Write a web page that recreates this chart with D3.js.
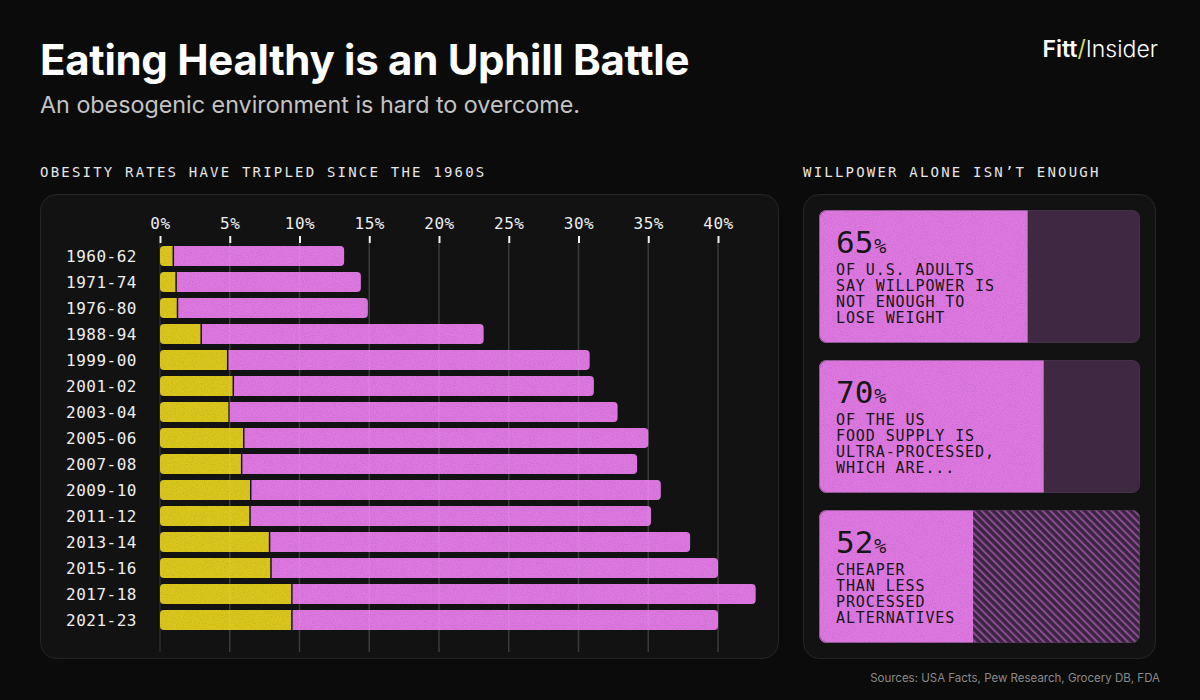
<!DOCTYPE html>
<html>
<head>
<meta charset="utf-8">
<script src="https://cdn.jsdelivr.net/npm/d3@7"></script>
<style>
  html, body { margin: 0; padding: 0; background: #0b0b0b; }
  svg { display: block; }
</style>
</head>
<body>
<svg id="chart"></svg>
<script>
// obesity rates (% of US adults)
const periods = ["1960-62", "1971-74", "1976-80", "1988-94", "1999-00", "2001-02", "2003-04",
  "2005-06", "2007-08", "2009-10", "2011-12", "2013-14", "2015-16", "2017-18", "2021-23"];
const severeObesity = [0.9, 1.1, 1.2, 2.9, 4.8, 5.2, 4.9, 5.95, 5.8, 6.45, 6.4, 7.8, 7.9, 9.4, 9.4];
const totalObesity = [13.2, 14.4, 14.9, 23.2, 30.8, 31.1, 32.8, 35.0, 34.2, 35.9, 35.2, 38.0, 40.0, 42.7, 40.0];
const xTicks = [0, 5, 10, 15, 20, 25, 30, 35, 40];

// right hand stat cards
const statValues = [65, 70, 52];
const statFill = [65, 70, 48]; // pink share of each card (last card hatches the 52%)
const statHatched = [false, false, true];
const statLines = [
  ["OF U.S. ADULTS", "SAY WILLPOWER IS", "NOT ENOUGH TO", "LOSE WEIGHT"],
  ["OF THE US", "FOOD SUPPLY IS", "ULTRA-PROCESSED,", "WHICH ARE..."],
  ["CHEAPER", "THAN LESS", "PROCESSED", "ALTERNATIVES"]
];

const width = 1200, height = 700;
const mono = "'DejaVu Sans Mono', monospace";
const sans = "Inter, 'Noto Sans', sans-serif";
const pink = "#df78e2", yellow = "#dcc81c";

const svg = d3.select("#chart")
  .attr("width", width)
  .attr("height", height)
  .attr("viewBox", [0, 0, width, height]);

svg.append("rect").attr("width", width).attr("height", height).attr("fill", "#0b0b0b");

const defs = svg.append("defs");
// grain for the bars
const grain = defs.append("filter").attr("id", "grain").attr("x", 0).attr("y", 0).attr("width", 1).attr("height", 1);
grain.append("feTurbulence").attr("type", "fractalNoise").attr("baseFrequency", 0.9).attr("numOctaves", 2).attr("seed", 3).attr("result", "noise");
grain.append("feColorMatrix").attr("in", "noise").attr("type", "matrix")
  .attr("values", "0 0 0 0 0  0 0 0 0 0  0 0 0 0 0  0 0 0 -1.2 0.75").attr("result", "dark");
grain.append("feComposite").attr("in", "dark").attr("in2", "SourceAlpha").attr("operator", "in").attr("result", "dk");
grain.append("feComponentTransfer").attr("in", "dk").attr("result", "dk2")
  .append("feFuncA").attr("type", "linear").attr("slope", 0.35);
const gm = grain.append("feMerge");
gm.append("feMergeNode").attr("in", "SourceGraphic");
gm.append("feMergeNode").attr("in", "dk2");

const hatch = defs.append("pattern").attr("id", "hatch")
  .attr("patternUnits", "userSpaceOnUse").attr("width", 5.4).attr("height", 5.4)
  .attr("patternTransform", "rotate(-45)");
hatch.append("rect").attr("width", 5.4).attr("height", 5.4).attr("fill", "#3a2440");
hatch.append("rect").attr("x", 0).attr("width", 2).attr("height", 5.4).attr("fill", "#8c4c94");

// rect with separate left / right corner radius
function barPath(x0, y0, w, h, rl, rr) {
  const p = d3.path();
  p.moveTo(x0 + rl, y0);
  p.lineTo(x0 + w - rr, y0);
  p.arcTo(x0 + w, y0, x0 + w, y0 + rr, rr);
  p.lineTo(x0 + w, y0 + h - rr);
  p.arcTo(x0 + w, y0 + h, x0 + w - rr, y0 + h, rr);
  p.lineTo(x0 + rl, y0 + h);
  p.arcTo(x0, y0 + h, x0, y0 + h - rl, rl);
  p.lineTo(x0, y0 + rl);
  p.arcTo(x0, y0, x0 + rl, y0, rl);
  p.closePath();
  return p.toString();
}

// header
svg.append("text").attr("x", 40).attr("y", 75)
  .attr("font-family", sans).attr("font-weight", 700).attr("font-size", 42).attr("letter-spacing", -0.3)
  .attr("fill", "#ffffff").text("Eating Healthy is an Uphill Battle");
svg.append("text").attr("x", 40).attr("y", 113)
  .attr("font-family", sans).attr("font-size", 23.3).attr("fill", "#c4c4c4")
  .text("An obesogenic environment is hard to overcome.");

const logo = svg.append("text").attr("x", 1158).attr("y", 57).attr("text-anchor", "end")
  .attr("font-family", sans).attr("font-size", 23).attr("fill", "#ffffff");
logo.append("tspan").attr("font-weight", 600).text("Fitt");
logo.append("tspan").attr("fill", "#d4e05a").attr("font-weight", 400).text("/");
logo.append("tspan").attr("font-weight", 300).text("Insider");

// section labels
svg.append("text").attr("x", 40).attr("y", 177)
  .attr("font-family", mono).attr("font-size", 14).attr("letter-spacing", 2.2).attr("fill", "#e6e6e6")
  .text("OBESITY RATES HAVE TRIPLED SINCE THE 1960S");
svg.append("text").attr("x", 803).attr("y", 177)
  .attr("font-family", mono).attr("font-size", 14).attr("letter-spacing", 2.2).attr("fill", "#e6e6e6")
  .text("WILLPOWER ALONE ISN\u2019T ENOUGH");

// panels
svg.append("rect").attr("x", 40.5).attr("y", 194.5).attr("width", 738).attr("height", 464).attr("rx", 16)
  .attr("fill", "#121212").attr("stroke", "#262626");
svg.append("rect").attr("x", 803.5).attr("y", 194.5).attr("width", 352).attr("height", 464).attr("rx", 16)
  .attr("fill", "#121212").attr("stroke", "#262626");

// bar chart
const x = d3.scaleLinear([0, 40], [160, 718]);
const y = d3.scaleBand(periods, [243, 633]).paddingInner(0.23).paddingOuter(0.115);
const I = d3.range(periods.length);

const grid = svg.append("g");
grid.selectAll("line.grid").data(xTicks).join("line").attr("class", "grid")
  .attr("x1", d => x(d)).attr("x2", d => x(d))
  .attr("y1", 243).attr("y2", 652)
  .attr("stroke", "#2c2c2c").attr("stroke-width", 1.5);

const xAxis = d3.axisTop(x).tickValues(xTicks).tickFormat(d => d + "%").tickSize(7).tickPadding(7);
svg.append("g").attr("transform", "translate(0,243)")
  .call(xAxis)
  .call(g => g.select(".domain").remove())
  .call(g => g.selectAll(".tick line").attr("stroke", "#f0f0f0").attr("stroke-width", 2))
  .call(g => g.selectAll(".tick text").attr("fill", "#eeeeee")
    .attr("font-family", mono).attr("font-size", 16).attr("letter-spacing", 0.6));

const yAxis = d3.axisLeft(y).tickSize(0).tickPadding(0);
svg.append("g").attr("transform", "translate(137,1)")
  .call(yAxis)
  .call(g => g.select(".domain").remove())
  .call(g => g.selectAll(".tick text").attr("fill", "#eeeeee")
    .attr("font-family", mono).attr("font-size", 16).attr("letter-spacing", 0.5));

const bars = svg.append("g").attr("filter", "url(#grain)");
bars.selectAll("path.total").data(I).join("path").attr("class", "total")
  .attr("fill", pink)
  .attr("d", i => barPath(x(severeObesity[i]) + 1.5, y(periods[i]), x(totalObesity[i]) - x(severeObesity[i]) - 1.5, y.bandwidth(), 0, 4));
bars.selectAll("path.severe").data(I).join("path").attr("class", "severe")
  .attr("fill", yellow)
  .attr("d", i => barPath(x(0), y(periods[i]), x(severeObesity[i]) - x(0), y.bandwidth(), 4, 0));

// faint gridlines showing through the bars
svg.append("g").selectAll("line").data(xTicks.slice(1)).join("line")
  .attr("x1", d => x(d)).attr("x2", d => x(d))
  .attr("y1", 243).attr("y2", 652)
  .attr("stroke", "#ffffff").attr("stroke-opacity", 0.07).attr("stroke-width", 1.5);

// stat cards
const cardX = 819, cardW = 321;
const cardY = d3.scaleBand(d3.range(statValues.length), [210, 643]).paddingInner(17 / 150).paddingOuter(0);
const cardH = cardY.bandwidth();
const share = d3.scaleLinear([0, 100], [0, cardW]);

const cards = svg.append("g").selectAll("g").data(d3.range(statValues.length)).join("g")
  .attr("transform", i => `translate(${cardX},${cardY(i)})`);

cards.append("rect").attr("width", cardW).attr("height", cardH).attr("rx", 8)
  .attr("fill", i => statHatched[i] ? "url(#hatch)" : "#3e2842");
cards.append("path").attr("fill", pink).attr("filter", "url(#grain)")
  .attr("d", i => barPath(0, 0, share(statFill[i]), cardH, 8, 0));
cards.append("rect").attr("width", cardW - 1).attr("height", cardH - 1).attr("x", 0.5).attr("y", 0.5).attr("rx", 8)
  .attr("fill", "none").attr("stroke", "#4a3a4c").attr("stroke-opacity", 0.5);

const num = cards.append("text").attr("x", 17).attr("y", 43)
  .attr("font-family", mono).attr("fill", "#161616");
num.append("tspan").attr("font-size", 31).text(i => statValues[i]);
num.append("tspan").attr("font-size", 20).attr("dx", 1).text("%");

cards.each(function(i) {
  d3.select(this).selectAll("text.line").data(statLines[i]).join("text").attr("class", "line")
    .attr("x", 17).attr("y", (d, j) => 65 + j * 16)
    .attr("font-family", mono).attr("font-size", 15).attr("letter-spacing", 0.9)
    .attr("fill", "#161616").text(d => d);
});

// sources
svg.append("text").attr("x", 1160).attr("y", 682).attr("text-anchor", "end")
  .attr("font-family", sans).attr("font-size", 11.5).attr("fill", "#8a8a8a")
  .text("Sources: USA Facts, Pew Research, Grocery DB, FDA");
</script>
</body>
</html>
